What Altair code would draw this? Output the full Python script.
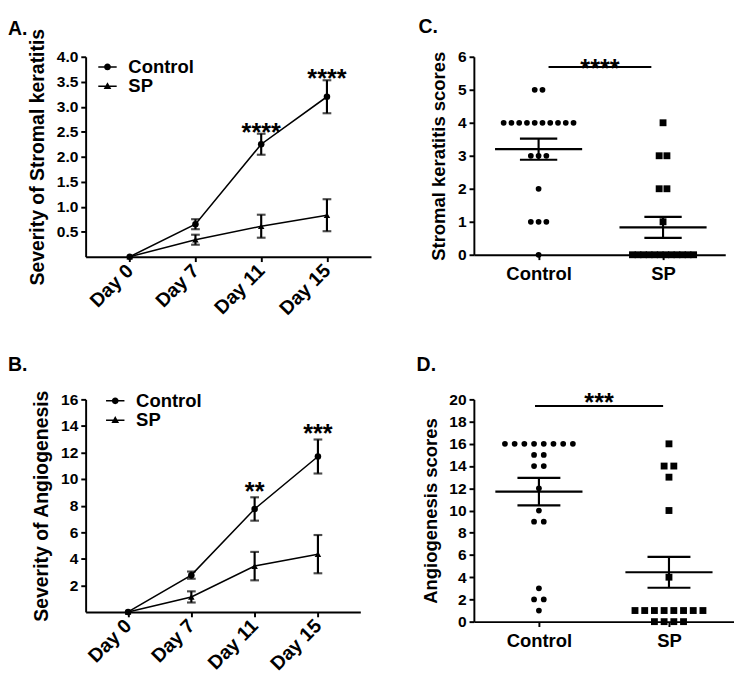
import json
from collections import Counter, defaultdict

import altair as alt
import pandas as pd

FONT = "Liberation Sans"

# ---------------- data ----------------
days = ["Day 0", "Day 7", "Day 11", "Day 15"]
groups = ["Control", "SP"]
panel_letters = ["A.", "B.", "C.", "D."]

# A. Severity of stromal keratitis (mean, SEM)
a_ctrl_mean = [0.0, 0.65, 2.25, 3.20]
a_ctrl_sem = [0.0, 0.10, 0.21, 0.33]
a_sp_mean = [0.0, 0.34, 0.61, 0.83]
a_sp_sem = [0.0, 0.10, 0.23, 0.32]
a_stars = ["", "", "****", "****"]

# B. Severity of angiogenesis (mean, SEM)
b_ctrl_mean = [0.0, 2.77, 7.75, 11.70]
b_ctrl_sem = [0.0, 0.27, 0.88, 1.28]
b_sp_mean = [0.0, 1.13, 3.45, 4.35]
b_sp_sem = [0.0, 0.42, 1.07, 1.44]
b_stars = ["", "", "**", "***"]

# C. Stromal keratitis scores (individual eyes)
c_ctrl = [5, 5, 4, 4, 4, 4, 4, 4, 4, 4, 4, 4, 3, 3, 3, 2, 1, 1, 1, 0]
c_sp = [4, 3, 3, 2, 2, 1, 0, 0, 0, 0, 0, 0, 0, 0, 0, 0, 0, 0]
c_mean = [3.20, 0.83]
c_sem = [0.32, 0.32]
c_sig = "****"
c_sig_level = 5.69

# D. Angiogenesis scores (individual eyes)
d_ctrl = [16, 16, 16, 16, 16, 16, 16, 16, 15, 15, 14, 14, 12, 10, 9, 9, 3, 2, 2, 1]
d_sp = [16, 14, 14, 13, 10, 4, 1, 1, 1, 1, 1, 1, 1, 1, 0, 0, 0, 0]
d_mean = [11.70, 4.44]
d_sem = [1.24, 1.39]
d_sig = "***"
d_sig_level = 19.4

# legend symbols: marker with a short line through it (fill only)
PATH_C = ("M-1.58,-0.13H1.58V0.13H-1.58Z"
          "M0.58,0A0.58,0.58,0,1,1,-0.58,0A0.58,0.58,0,1,1,0.58,0Z")
PATH_T = "M-1.58,-0.13H1.58V0.13H-1.58ZM0,-0.71L0.66,0.47L-0.66,0.47Z"


def axis(**kw):
    d = dict(domainColor="black", domainWidth=2, tickColor="black", tickWidth=2,
             tickSize=5, labelFont=FONT, labelFontWeight="bold", labelColor="black",
             labelFontSize=16, labelOverlap=False, titleFont=FONT, titleFontWeight="bold",
             titleColor="black", titleFontSize=20, grid=False)
    d.update(kw)
    if "values" in d:
        d["tickCount"] = len(d["values"])
    return alt.Axis(**d)


def letter_layer(letter, lx, ly):
    return alt.Chart(pd.DataFrame({"t": [letter]})).mark_text(
        font=FONT, fontWeight="bold", fontSize=20, align="left", baseline="top",
        color="black").encode(x=alt.value(lx), y=alt.value(ly), text="t:N")


def line_panel(letter, cm, cs, sm, ss, stars, ymax, ystep, fmt, ytitle, w, h,
               leg_x, leg_y, row_pad, star_dy, lx, ly):
    rows = []
    for g, m, s in (("Control", cm, cs), ("SP", sm, ss)):
        for i, d in enumerate(days):
            rows.append({"group": g, "day": d, "idx": i, "mean": m[i], "sem": s[i],
                         "lo": m[i] - s[i], "hi": m[i] + s[i]})
    df = pd.DataFrame(rows)
    sdf = pd.DataFrame({"idx": list(range(len(days))),
                        "hi": [cm[i] + cs[i] for i in range(len(days))],
                        "txt": stars})
    sdf = sdf[sdf.txt != ""]

    xs = alt.Scale(domain=[-0.67, 3.67], nice=False, zero=False)
    ys = alt.Scale(domain=[0, ymax], nice=False)
    yvals = [ystep * k for k in range(1, int(round(ymax / ystep)) + 1)]
    xax = axis(values=list(range(len(days))), labelExpr=json.dumps(days) + "[datum.value]",
               labelAngle=-45, labelAlign="right", labelBaseline="middle",
               labelFontSize=20, labelPadding=6, title=None)
    yax = axis(values=yvals, format=fmt, title=ytitle, titlePadding=9, labelPadding=3)

    base = alt.Chart(df)
    X = alt.X("idx:Q", scale=xs, axis=xax)
    line = base.mark_line(color="black", strokeWidth=1.6).encode(
        x=X, y=alt.Y("mean:Q", scale=ys, axis=yax), detail="group:N")
    ebase = base.transform_filter("datum.sem > 0")
    err = ebase.mark_rule(color="black", strokeWidth=2.2).encode(
        x="idx:Q", y="lo:Q", y2="hi:Q")
    cap_lo = ebase.mark_tick(color="black", orient="horizontal", size=9, thickness=2.2).encode(
        x="idx:Q", y="lo:Q")
    cap_hi = ebase.mark_tick(color="black", orient="horizontal", size=9, thickness=2.2).encode(
        x="idx:Q", y="hi:Q")
    pts = base.mark_point(filled=True, color="black", size=45, opacity=1).encode(
        x="idx:Q", y="mean:Q",
        shape=alt.Shape("group:N", scale=alt.Scale(domain=groups, range=["circle", "triangle-up"]),
                        legend=None))
    leg = base.transform_filter("datum.idx < 0").mark_point(
        filled=True, color="black", opacity=1).encode(
        x="idx:Q", y="mean:Q",
        shape=alt.Shape("group:N", scale=alt.Scale(domain=groups, range=[PATH_C, PATH_T]),
                        legend=alt.Legend(title=None, orient="none", legendX=leg_x, legendY=leg_y,
                                          labelFont=FONT, labelFontWeight="bold", labelFontSize=19,
                                          labelColor="black", symbolSize=144,
                                          symbolFillColor="black", symbolStrokeWidth=0,
                                          symbolOpacity=1,
                                          labelOffset=12, rowPadding=row_pad, padding=0)))
    txt = alt.Chart(sdf).mark_text(font=FONT, fontWeight="bold", fontSize=26,
                                   baseline="alphabetic", dy=star_dy, color="black").encode(
        x="idx:Q", y="hi:Q", text="txt:N")
    return alt.layer(line, err, cap_lo, cap_hi, pts, leg, txt,
                     letter_layer(letter, lx, ly)).resolve_scale(
        shape="independent").properties(width=w, height=h)


def scatter_panel(letter, ctrl, sp, mean, sem, sig, sig_level, ymax, ystep, ytitle, w, h,
                  xdom, step_px, max_n, span_px, csize, ssize, mean_hw, cap_hw, bar_l, bar_r,
                  sig_dy, lx, ly):
    unit = w / (xdom[1] - xdom[0])
    rows = []
    for gi, (g, vals) in enumerate((("Control", ctrl), ("SP", sp))):
        cnt = Counter(vals)
        seen = defaultdict(int)
        for v in vals:
            n = cnt[v]
            st = step_px if n <= max_n else span_px / (n - 1)
            k = seen[v]
            seen[v] += 1
            rows.append({"group": g, "value": v, "pos": gi + (k - (n - 1) / 2) * st / unit})
    df = pd.DataFrame(rows)
    sm = pd.DataFrame({"group": groups, "cat": [0, 1], "mean": mean,
                       "lo": [m - s for m, s in zip(mean, sem)],
                       "hi": [m + s for m, s in zip(mean, sem)]})
    sm["m1"] = sm["cat"] - mean_hw
    sm["m2"] = sm["cat"] + mean_hw
    sm["c1"] = sm["cat"] - cap_hw
    sm["c2"] = sm["cat"] + cap_hw
    sg = pd.DataFrame({"x1": [0 + bar_l], "x2": [1 - bar_r], "y": [sig_level], "txt": [sig]})
    sg["xm"] = (sg["x1"] + sg["x2"]) / 2

    xs = alt.Scale(domain=xdom, nice=False, zero=False)
    ys = alt.Scale(domain=[0, ymax], nice=False)
    yvals = [ystep * k for k in range(0, int(round(ymax / ystep)) + 1)]
    xax = axis(values=[0, 1], labelExpr=json.dumps(groups) + "[datum.value]",
               labelFontSize=19, labelPadding=6, title=None)
    yax = axis(values=yvals, format="d", title=ytitle, titleFontSize=19,
               titlePadding=9, labelPadding=3)

    pts = alt.Chart(df).mark_point(filled=True, color="black", opacity=1).encode(
        x=alt.X("pos:Q", scale=xs, axis=xax),
        y=alt.Y("value:Q", scale=ys, axis=yax),
        shape=alt.Shape("group:N", scale=alt.Scale(domain=groups, range=["circle", "square"]),
                        legend=None),
        size=alt.Size("group:N", scale=alt.Scale(domain=groups, range=[csize, ssize]),
                      legend=None))
    s = alt.Chart(sm)
    mline = s.mark_rule(color="black", strokeWidth=2.2).encode(x="m1:Q", x2="m2:Q", y="mean:Q")
    vline = s.mark_rule(color="black", strokeWidth=2.2).encode(x="cat:Q", y="lo:Q", y2="hi:Q")
    clo = s.mark_rule(color="black", strokeWidth=2.2).encode(x="c1:Q", x2="c2:Q", y="lo:Q")
    chi = s.mark_rule(color="black", strokeWidth=2.2).encode(x="c1:Q", x2="c2:Q", y="hi:Q")
    g = alt.Chart(sg)
    bar = g.mark_rule(color="black", strokeWidth=2.2).encode(x="x1:Q", x2="x2:Q", y="y:Q")
    star = g.mark_text(font=FONT, fontWeight="bold", fontSize=26, baseline="alphabetic",
                       dy=sig_dy, color="black").encode(x="xm:Q", y="y:Q", text="txt:N")
    return alt.layer(pts, mline, vline, clo, chi, bar, star,
                     letter_layer(letter, lx, ly)).properties(width=w, height=h)


A = line_panel(panel_letters[0], a_ctrl_mean, a_ctrl_sem, a_sp_mean, a_sp_sem, a_stars,
               4.0, 0.5, ".1f", "Severity of Stromal keratitis", 294, 206,
               13, 1, -4, 7, -80, -38)
B = line_panel(panel_letters[1], b_ctrl_mean, b_ctrl_sem, b_sp_mean, b_sp_sem, b_stars,
               16, 2, "d", "Severity of Angiogenesis", 283, 219,
               21, -8, 0, 3, -80, -45)
C = scatter_panel(panel_letters[2], c_ctrl, c_sp, c_mean, c_sem, c_sig, c_sig_level, 6, 1,
                  "Stromal keratitis scores", 259, 204, [-0.52, 1.5], 8, 10, 63, 35, 50,
                  0.35, 0.15, 0.08, 0.094, 10, -57, -40)
D = scatter_panel(panel_letters[3], d_ctrl, d_sp, d_mean, d_sem, d_sig, d_sig_level, 20, 2,
                  "Angiogenesis scores", 268, 229, [-0.5, 1.5], 10, 10, 80, 42, 55,
                  0.335, 0.165, -0.03, 0.045, 5, -59, -45)

chart = alt.concat(
    A, C, B, D, columns=2, align="each", spacing={"row": 38, "column": 47},
).properties(padding=0).configure_view(stroke=None)

chart.save("out.html", embed_options={"renderer": "svg", "actions": False})
